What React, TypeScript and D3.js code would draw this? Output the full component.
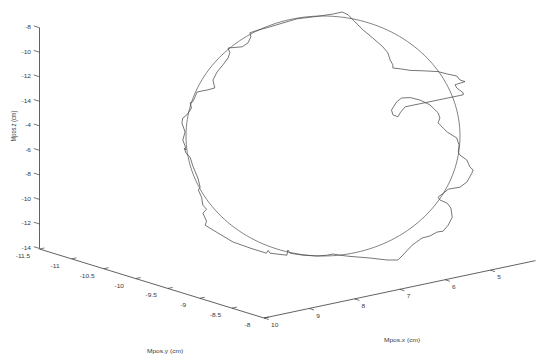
import React from 'react';
import * as d3 from 'd3';

// z axis tick labels, top to bottom (as printed on the original figure)
const zTickLabels = ['-8', '-10', '-12', '-14', '-4', '-6', '-8', '-10', '-12', '-14'];
// y axis ticks (cm)
const yTicks = [-11.5, -11, -10.5, -10, -9.5, -9, -8.5, -8];
// x axis ticks (cm), axis runs 10 -> 4
const xTicks = [10, 9, 8, 7, 6, 5];

// reference circle in the viewing plane (cm)
const circleCenter = [0, 0];
const circleRadius = 3;

// measured trajectory, projected onto the viewing plane (cm)
const trajH = [
  0.42, 0.55, 0.66, 0.88, 1.09, 1.31, 1.42, 1.47, 1.53, 1.53, 1.69, 1.91, 2.19, 2.52, 2.72, 2.93,
  3.0, 3.11, 2.89, 2.93, 3.07, 3.07, 1.8, 1.69, 1.64, 1.53, 1.5, 1.61, 1.72, 1.91, 2.12, 2.34,
  2.52, 2.56, 2.52, 2.63, 2.72, 2.93, 2.98, 2.96, 3.0, 3.15, 3.22, 3.29, 3.26, 3.15, 3.0, 2.74,
  2.67, 2.52, 2.56, 2.72, 2.8, 2.83, 2.74, 2.63, 2.5, 2.34, 2.17, 1.95, 1.73, 1.64, 1.4, 1.03,
  0.59, 0.37, 0.22, 0.09, -0.13, -0.44, -0.72, -0.77, -0.79, -1.16, -1.2, -1.24, -1.6, -1.97,
  -2.41, -2.58, -2.55, -2.63, -2.55, -2.63, -2.66, -2.73, -2.69, -2.74, -2.85, -2.91, -3.0,
  -3.04, -3.0, -3.02, -3.07, -3.02, -3.09, -3.07, -2.98, -2.88, -2.91, -2.85, -2.8, -2.76,
  -2.54, -2.37, -2.41, -2.32, -2.19, -2.08, -2.04, -2.08, -1.77, -1.64, -1.58, -1.6, -1.47,
  -1.16, -0.57, -0.13, 0.22, 0.42,
];
const trajV = [
  3.1, 3.03, 2.9, 2.65, 2.45, 2.23, 2.08, 1.9, 1.78, 1.7, 1.68, 1.64, 1.63, 1.61, 1.55, 1.5,
  1.4, 1.36, 1.28, 1.2, 1.08, 1.03, 0.73, 0.58, 0.48, 0.53, 0.65, 0.85, 0.95, 0.96, 0.9, 0.78,
  0.58, 0.45, 0.33, 0.2, 0.1, -0.05, -0.23, -0.4, -0.48, -0.6, -0.78, -0.85, -0.93, -1.15, -1.28,
  -1.33, -1.4, -1.53, -1.6, -1.68, -1.8, -2.03, -2.23, -2.38, -2.4, -2.5, -2.55, -2.73, -3.0,
  -3.1, -3.1, -3.05, -3.01, -2.98, -2.95, -2.98, -3.0, -2.98, -2.93, -2.85, -2.98, -2.93, -2.86,
  -2.93, -2.8, -2.65, -2.35, -2.23, -2.13, -1.93, -1.83, -1.73, -1.53, -1.35, -1.28, -1.05,
  -0.75, -0.53, -0.43, -0.3, -0.35, -0.25, -0.1, 0.1, 0.33, 0.45, 0.53, 0.7, 0.83, 0.86, 0.98,
  1.1, 1.15, 1.2, 1.4, 1.6, 1.78, 1.95, 2.08, 2.2, 2.23, 2.33, 2.48, 2.58, 2.63, 2.73, 2.93,
  2.99, 3.05, 3.1,
];

const W = 537;
const H = 356;
const font = 'Liberation Sans, Arial, Helvetica, sans-serif';
const ink = '#3a3a3a';

export default function App() {
  // 3D box axes (screen projection)
  const zScale = d3.scaleLinear().domain([0, zTickLabels.length - 1]).range([27.7, 248.5]);
  const zX = 39.5;
  const yPx = d3.scaleLinear().domain([-11.5, -8]).range([39.5, 264]);
  const yPy = d3.scaleLinear().domain([-11.5, -8]).range([249, 318]);
  const xPx = d3.scaleLinear().domain([10, 4]).range([264, 535.5]);
  const xPy = d3.scaleLinear().domain([10, 4]).range([318, 260.6]);

  // viewing plane for the trajectory
  const hScale = d3.scaleLinear().domain([-3, 3]).range([186, 460]);
  const vScale = d3.scaleLinear().domain([-3, 3]).range([256, 16]);

  const traj = d3
    .line<number>()
    .x((_, i) => hScale(trajH[i]))
    .y((_, i) => vScale(trajV[i]))(trajH);

  const circlePts = d3.range(0, 361, 2).map((a) => (a * Math.PI) / 180);
  const circle = d3
    .line<number>()
    .x((a) => hScale(circleCenter[0] + circleRadius * Math.cos(a)))
    .y((a) => vScale(circleCenter[1] + circleRadius * Math.sin(a)))
    .curve(d3.curveLinearClosed)(circlePts);

  const txt = (x: number, y: number, s: string, anchor = 'middle', extra = '') => (
    <text
      key={s + x + y}
      transform={`translate(${x},${y}) scale(1,0.85)${extra}`}
      textAnchor={anchor}
      dominantBaseline="middle"
      fontSize={6.6}
      fontFamily={font}
      fill={ink}
    >
      {s}
    </text>
  );

  return (
    <div>
      <style>{`body{margin:0}`}</style>
      <svg width={W} height={H} style={{ display: 'block', background: '#fff' }}>
        {/* z axis */}
        <line x1={zX} x2={zX} y1={zScale(0)} y2={zScale(zTickLabels.length - 1)} stroke={ink} strokeWidth={0.8} />
        {zTickLabels.map((l, i) => (
          <g key={'z' + i}>
            <line x1={zX - 5.7} y1={zScale(i) - 1.8} x2={zX} y2={zScale(i)} stroke={ink} strokeWidth={0.7} />
            {txt(31, zScale(i), l, 'end')}
          </g>
        ))}
        {txt(14, 126, 'Mpos.z (cm)', 'middle', ' rotate(-90)')}

        {/* y axis */}
        <line x1={yPx(-11.5)} y1={yPy(-11.5)} x2={yPx(-8)} y2={yPy(-8)} stroke={ink} strokeWidth={0.8} />
        {yTicks.map((t) => (
          <g key={'y' + t}>
            <line x1={yPx(t)} y1={yPy(t)} x2={yPx(t) + 4.9} y2={yPy(t) - 1} stroke={ink} strokeWidth={0.7} />
            {txt(yPx(t) - 16.5, yPy(t) + 7.5, String(t))}
          </g>
        ))}
        {txt(165, 351.5, 'Mpos.y (cm)')}

        {/* x axis */}
        <line x1={xPx(10)} y1={xPy(10)} x2={xPx(4)} y2={xPy(4)} stroke={ink} strokeWidth={0.8} />
        {xTicks.map((t) => (
          <g key={'x' + t}>
            <line x1={xPx(t)} y1={xPy(t)} x2={xPx(t) + 4.8} y2={xPy(t) + 1.5} stroke={ink} strokeWidth={0.7} />
            {txt(xPx(t) + 7, xPy(t) + 7.6, String(t), 'start')}
          </g>
        ))}
        {txt(402, 341, 'Mpos.x (cm)')}

        {/* reference circle and trajectory */}
        <path d={circle ?? ''} fill="none" stroke="#5a5a5a" strokeWidth={0.75} />
        <path d={traj ?? ''} fill="none" stroke="#4a4a4a" strokeWidth={0.75} strokeLinejoin="round" />
      </svg>
    </div>
  );
}
